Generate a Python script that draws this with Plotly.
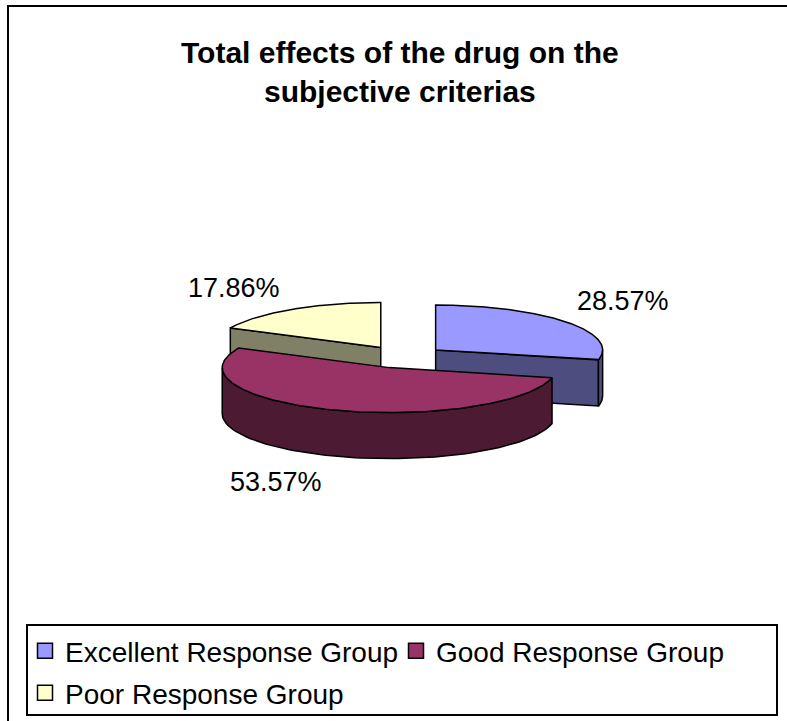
import numpy as np
import plotly.graph_objects as go

# ---- data ----
categories = ["Excellent Response Group", "Good Response Group", "Poor Response Group"]
values = [28.57, 53.57, 17.86]
value_labels = ["28.57%", "53.57%", "17.86%"]

# ---- style ----
top_colors = ["#9999FF", "#993366", "#FFFFCC"]
side_colors = ["#4D4D80", "#4D1A33", "#808066"]
W, H = 787, 721
CX, CY = 403.0, 357.0      # pie centre (px)
RX, RY = 167.0, 45.0       # ellipse radii (px)
DEPTH = 46.0               # pie thickness (px)
EXPLODE = 0.25             # explosion as fraction of radius
FONT = "Liberation Sans, Arial, sans-serif"
EDGE = dict(color="black", width=1.5)

fig = go.Figure()

total = float(sum(values))
slices = []
cum = 0.0
for i, v in enumerate(values):
    a2 = 90.0 - 360.0 * cum / total          # ccw end (start at 12 o'clock, clockwise)
    a1 = a2 - 360.0 * v / total              # ccw start
    cum += v
    m = np.radians((a1 + a2) / 2.0)
    cx = CX + EXPLODE * RX * np.cos(m)
    cy = CY - EXPLODE * RY * np.sin(m)
    slices.append(dict(i=i, a1=a1, a2=a2, m=m, cx=cx, cy=cy))


def rim(s, ang_deg, dz=0.0):
    a = np.radians(ang_deg)
    return s["cx"] + RX * np.cos(a), s["cy"] - RY * np.sin(a) + dz


def poly(xs, ys, color):
    fig.add_trace(go.Scatter(x=list(xs) + [xs[0]], y=list(ys) + [ys[0]], mode="lines",
                             fill="toself", fillcolor=color, line=EDGE,
                             hoverinfo="skip", showlegend=False))


# draw back slices first
for s in sorted(slices, key=lambda s: -np.sin(s["m"])):
    i = s["i"]
    # visible radial cut faces
    for ang, vis in ((s["a1"], np.cos(np.radians(s["a1"])) > 1e-6),
                     (s["a2"], np.cos(np.radians(s["a2"])) < -1e-6)):
        if vis:
            x0, y0 = rim(s, ang)
            poly([s["cx"], x0, x0, s["cx"]], [s["cy"], y0, y0 + DEPTH, s["cy"] + DEPTH], side_colors[i])
    # visible part of outer curved side (front half: 180..360 deg)
    for k in range(-2, 2):
        lo = max(s["a1"], 180.0 + 360.0 * k)
        hi = min(s["a2"], 360.0 + 360.0 * k)
        if hi - lo > 1e-6:
            angs = np.linspace(lo, hi, 80)
            tx, ty = zip(*[rim(s, a) for a in angs])
            bx, by = zip(*[rim(s, a, DEPTH) for a in angs[::-1]])
            poly(list(tx) + list(bx), list(ty) + list(by), side_colors[i])
    # top face
    angs = np.linspace(s["a1"], s["a2"], 160)
    px, py = zip(*[rim(s, a) for a in angs])
    poly([s["cx"]] + list(px), [s["cy"]] + list(py), top_colors[i])

# value labels placed just outside each slice
annotations = []
for s in slices:
    i = s["i"]
    c, sn = np.cos(s["m"]), np.sin(s["m"])
    px = s["cx"] + RX * c
    py = s["cy"] - RY * sn + (DEPTH if sn < 0 else 0.0)
    annotations.append(dict(x=px, y=py, xref="x", yref="y", text=value_labels[i], showarrow=False,
                            xanchor="left" if c > 0 else "right",
                            yanchor="bottom" if sn > 0 else "top",
                            xshift=9 if c > 0 else -10, yshift=4 if sn > 0 else -9,
                            font=dict(family=FONT, size=27, color="black")))

annotations.append(dict(x=400 / W, y=1 - 34 / H, xref="paper", yref="paper", xanchor="center", yanchor="top",
                        text="<b>Total effects of the drug on the<br>subjective criterias</b>", showarrow=False,
                        font=dict(family=FONT, size=30, color="black")))

# legend entries (one legend per entry position)
legend_names = ["legend", "legend2", "legend3"]
for i, name in enumerate(categories):
    fig.add_trace(go.Scatter(x=[None], y=[None], mode="markers", name=name, legend=legend_names[i],
                             marker=dict(symbol="square", size=15, color=top_colors[i],
                                         line=dict(color="black", width=1.5))))

leg_common = dict(bgcolor="rgba(0,0,0,0)", borderwidth=0, font=dict(family=FONT, size=28, color="black"),
                  xanchor="left", yanchor="middle", orientation="h")
layout_legends = {
    "legend": dict(x=25 / W, y=1 - 651 / H, **leg_common),
    "legend2": dict(x=396 / W, y=1 - 651 / H, **leg_common),
    "legend3": dict(x=25 / W, y=1 - 693 / H, **leg_common),
}

shapes = [
    dict(type="rect", xref="paper", yref="paper", x0=8 / W, y0=-0.05, x1=1.05, y1=1 - 6 / H,
         line=dict(color="black", width=2), fillcolor="rgba(0,0,0,0)", layer="below"),
    dict(type="rect", xref="paper", yref="paper", x0=27 / W, y0=1 - 715 / H, x1=777 / W, y1=1 - 625 / H,
         line=dict(color="black", width=2), fillcolor="rgba(0,0,0,0)", layer="below"),
]

fig.update_layout(
    width=W, height=H, margin=dict(l=0, r=0, t=0, b=0),
    paper_bgcolor="white", plot_bgcolor="white",
    xaxis=dict(range=[0, W], visible=False, fixedrange=True),
    yaxis=dict(range=[H, 0], visible=False, fixedrange=True),
    annotations=annotations, shapes=shapes, showlegend=True,
    **layout_legends,
)

fig.write_html("out.html")
